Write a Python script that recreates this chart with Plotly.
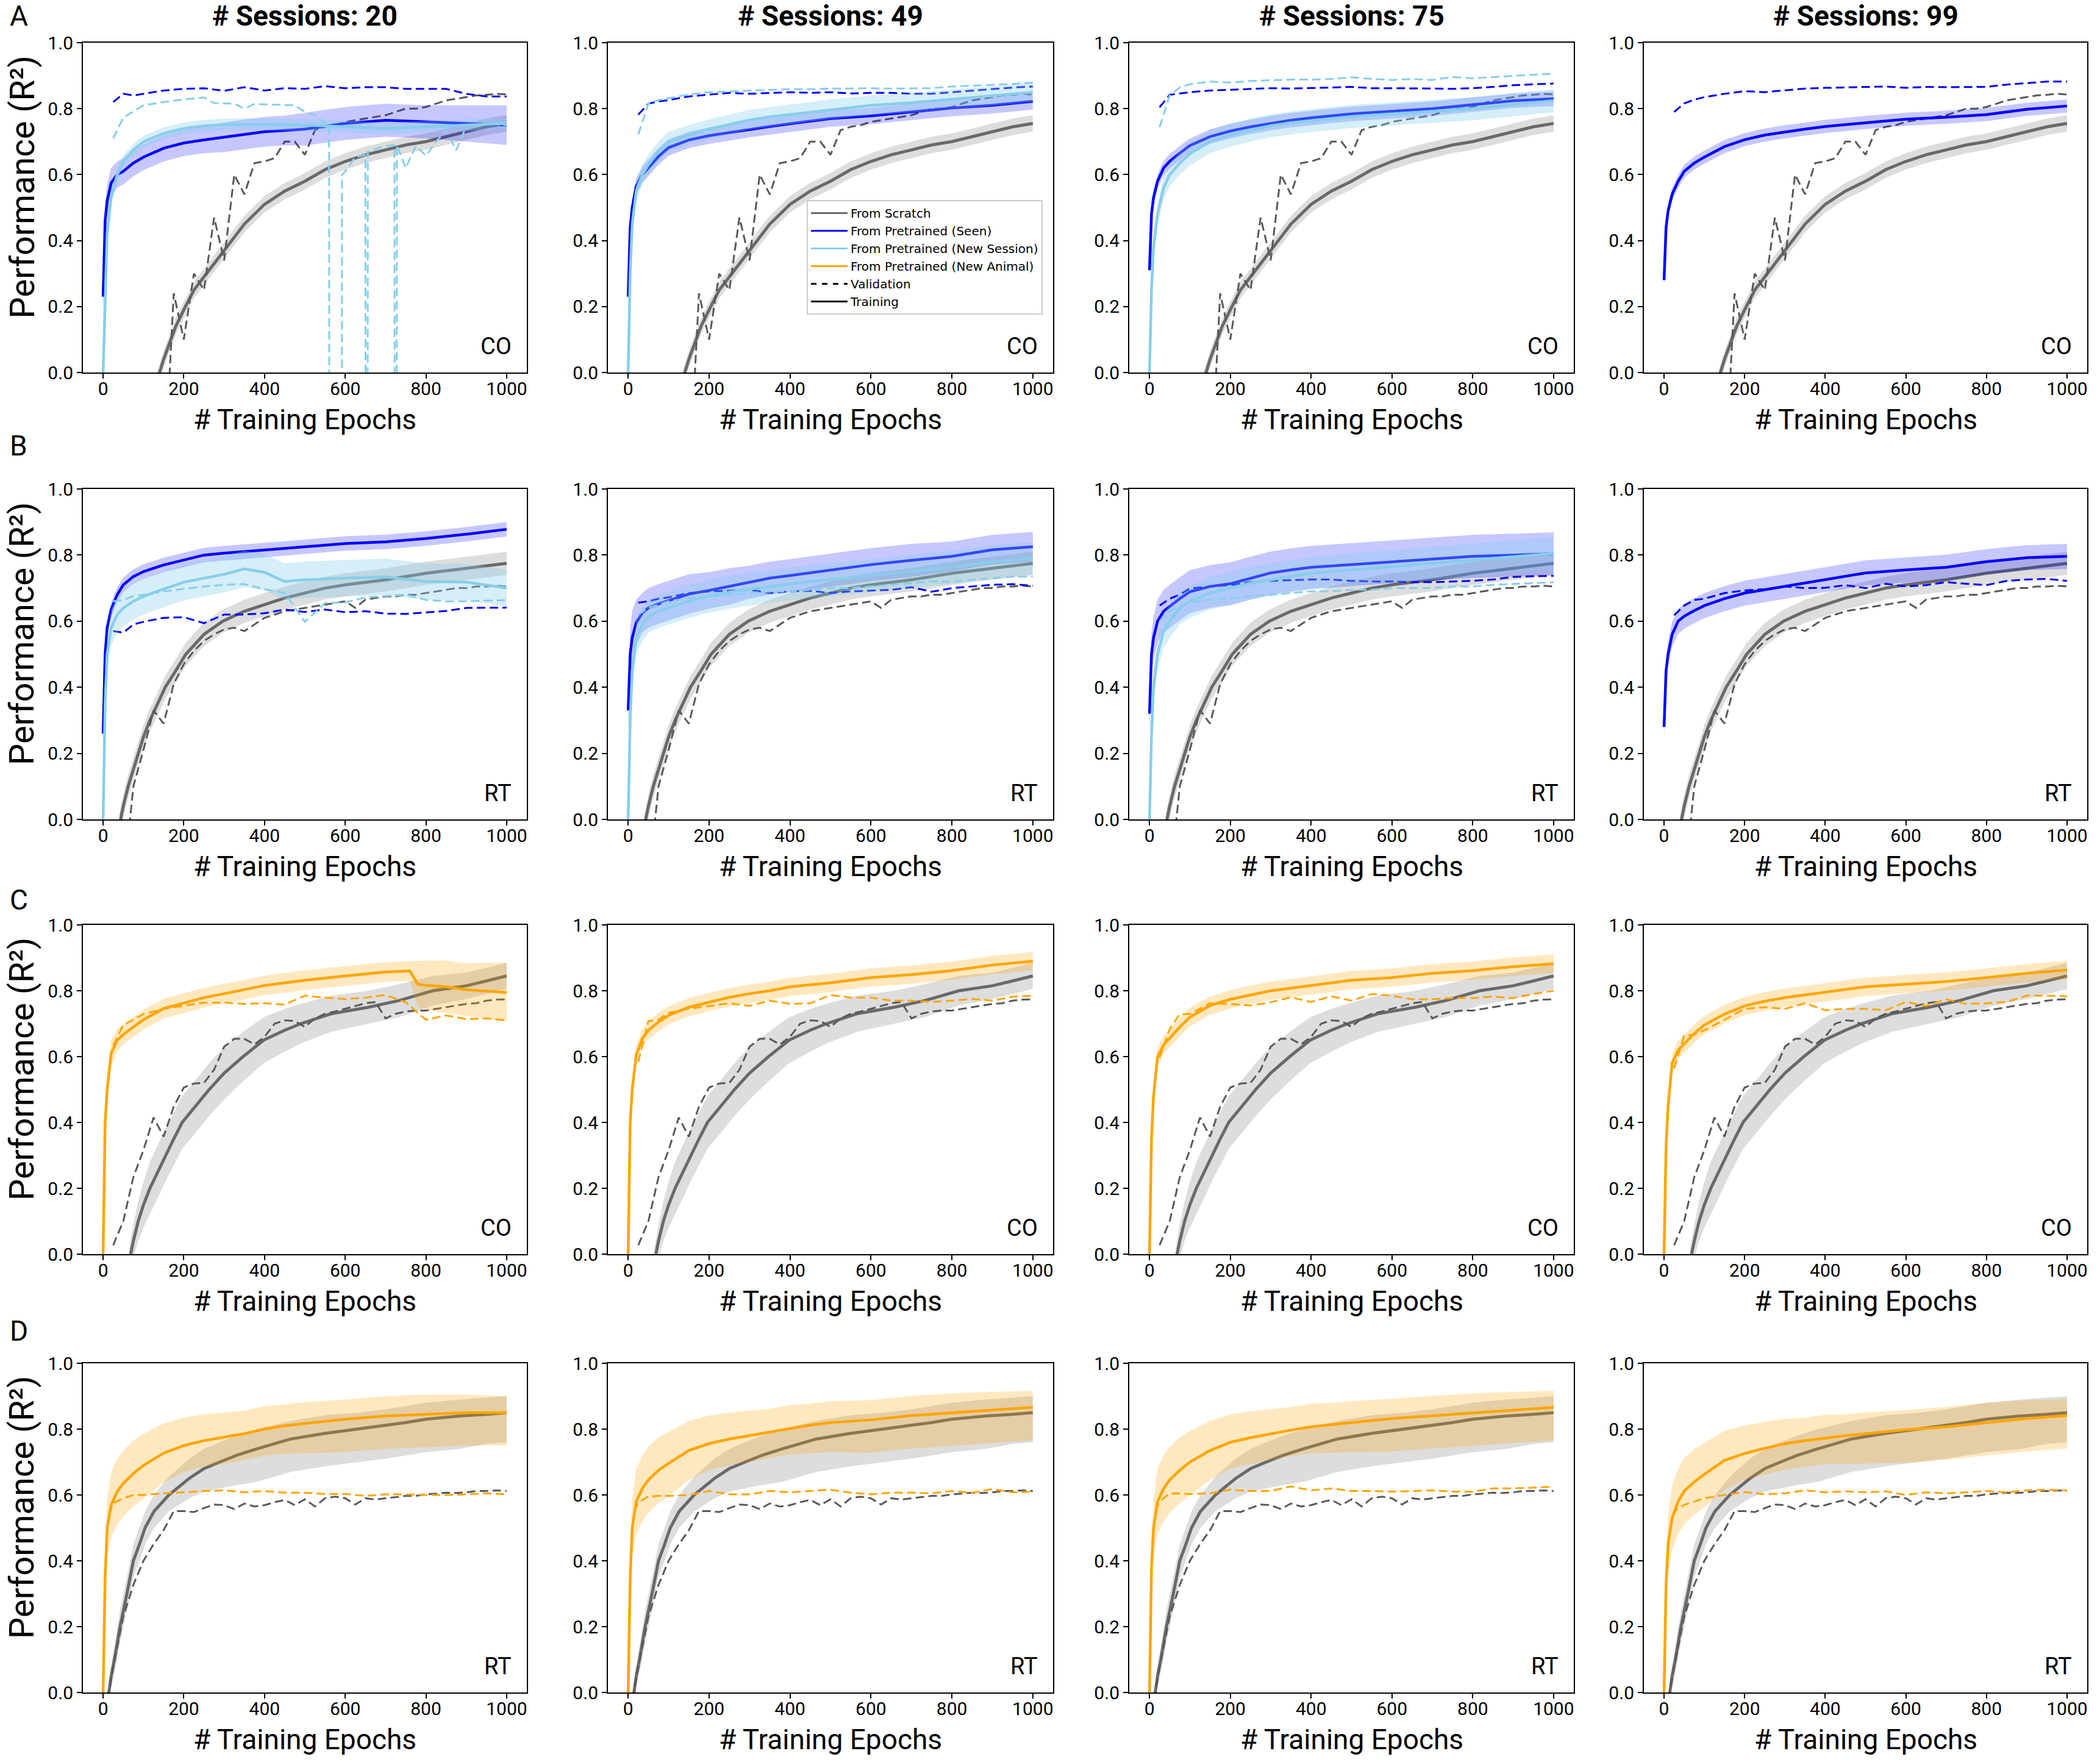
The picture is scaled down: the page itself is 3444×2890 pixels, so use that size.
import plotly.graph_objects as go

# ---------------- data: epoch grids & labels ----------------
TRAIN_EPOCHS = [0, 5, 10, 20, 35, 50, 75, 100, 150, 200, 250, 300, 350, 400, 450, 500, 600, 700, 800, 900, 1000]
VAL_EPOCHS = [25, 50, 75, 100, 150, 200, 250, 300, 350, 400, 450, 500, 550, 600, 650, 700, 750, 800, 850, 900, 950, 1000]
VAL_EPOCHS_D = [15, 25, 50, 75, 100, 150, 200, 250, 300, 350, 400, 450, 500, 550, 600, 650, 700, 750, 800, 850, 900, 950, 1000]
VAL_EPOCHS_25 = [25, 50, 75, 100, 125, 150, 175, 200, 225, 250, 275, 300, 325, 350, 375, 400, 425, 450, 475, 500,
                 525, 550, 575, 600, 625, 650, 675, 700, 725, 750, 775, 800, 825, 850, 875, 900, 925, 950, 975, 1000]
X_TICKS = [0, 200, 400, 600, 800, 1000]
Y_TICKS = [0.0, 0.2, 0.4, 0.6, 0.8, 1.0]
SESSIONS = [20, 49, 75, 99]
ROW_LETTERS = ["A", "B", "C", "D"]
ROW_TASKS = ["CO", "RT", "CO", "RT"]
LEGEND_NAMES = ["From Scratch", "From Pretrained (Seen)", "From Pretrained (New Session)",
                "From Pretrained (New Animal)", "Validation", "Training"]

# ---------------- data: from-scratch curves (shared across a row) ----------------
A_SCR_X = [135, 150, 165, 180, 200, 225, 250, 275, 300, 350, 400, 450, 500, 550, 600, 650, 700, 750, 800, 850, 900, 950, 1000]
A_SCR_Y = [-0.02, 0.04, 0.09, 0.14, 0.19, 0.25, 0.29, 0.33, 0.37, 0.45, 0.51, 0.55, 0.58, 0.615, 0.64, 0.66, 0.675, 0.69, 0.70, 0.715, 0.73, 0.745, 0.755]
A_SCR_SD = 0.025
A_SCR_VAL_X = [150, 175, 200, 225, 250, 275, 300, 325, 350, 375, 400, 425, 450, 475, 500, 525, 550, 575, 600, 625, 650, 675,
               700, 725, 750, 775, 800, 825, 850, 875, 900, 925, 950, 975, 1000]
A_SCR_VAL = [-0.36, 0.24, 0.10, 0.30, 0.25, 0.47, 0.34, 0.60, 0.54, 0.635, 0.64, 0.65, 0.70, 0.70, 0.66, 0.735, 0.745, 0.75,
             0.76, 0.765, 0.77, 0.775, 0.78, 0.79, 0.80, 0.80, 0.805, 0.815, 0.825, 0.83, 0.835, 0.84, 0.842, 0.845, 0.843]

B_SCR_X = [40, 50, 62, 75, 87, 100, 116, 135, 154, 180, 205, 250, 297, 350, 400, 450, 500, 550, 600, 700, 800, 900, 1000]
B_SCR_Y = [-0.02, 0.04, 0.1, 0.15, 0.2, 0.25, 0.3, 0.35, 0.4, 0.45, 0.5, 0.56, 0.6, 0.63, 0.65, 0.67, 0.685, 0.70, 0.71, 0.725, 0.745, 0.76, 0.775]
B_SCR_SD = 0.035
B_SCR_VAL_X = [65, 75, 100, 125, 150, 175, 200, 225, 250, 275, 300, 325, 350, 375, 400, 425, 450, 475, 500, 525, 550, 575,
               600, 625, 650, 675, 700, 725, 750, 775, 800, 825, 850, 875, 900, 925, 950, 975, 1000]
B_SCR_VAL = [-0.02, 0.1, 0.21, 0.33, 0.29, 0.41, 0.47, 0.51, 0.54, 0.56, 0.575, 0.58, 0.57, 0.59, 0.61, 0.62, 0.63, 0.635,
             0.64, 0.645, 0.65, 0.655, 0.66, 0.64, 0.665, 0.67, 0.675, 0.675, 0.68, 0.68, 0.685, 0.69, 0.695, 0.70, 0.70,
             0.705, 0.705, 0.707, 0.705]

C_SCR_X = [65, 75, 87, 100, 116, 135, 154, 175, 196, 230, 263, 300, 347, 398, 450, 490, 565, 658, 733, 817, 900, 951, 1000]
C_SCR_Y = [-0.02, 0.04, 0.1, 0.15, 0.2, 0.25, 0.3, 0.35, 0.4, 0.45, 0.5, 0.55, 0.6, 0.65, 0.68, 0.70, 0.73, 0.75, 0.77, 0.80, 0.815, 0.83, 0.845]
C_SCR_SD = [0.04, 0.05, 0.06, 0.07, 0.08, 0.08, 0.08, 0.08, 0.08, 0.08, 0.08, 0.08, 0.075, 0.07, 0.065, 0.06, 0.055, 0.05, 0.05, 0.045, 0.04, 0.04, 0.04]
C_SCR_VAL = [0.027, 0.10, 0.234, 0.316, 0.415, 0.357, 0.448, 0.506, 0.518, 0.52, 0.56, 0.63, 0.654, 0.654, 0.637, 0.66,
             0.70, 0.71, 0.708, 0.69, 0.716, 0.73, 0.737, 0.745, 0.754, 0.762, 0.766, 0.716, 0.73, 0.737, 0.74, 0.74,
             0.745, 0.75, 0.754, 0.76, 0.762, 0.77, 0.773, 0.774]

D_SCR_X = [12, 20, 28, 42, 59, 75, 90, 104, 126, 163, 213, 250, 289, 330, 381, 465, 550, 633, 700, 750, 800, 884, 950, 1000]
D_SCR_Y = [-0.02, 0.05, 0.1, 0.2, 0.3, 0.4, 0.45, 0.5, 0.55, 0.6, 0.65, 0.68, 0.70, 0.72, 0.74, 0.77, 0.787, 0.80, 0.81, 0.82, 0.83, 0.84, 0.845, 0.85]
D_SCR_UP = [0.02, 0.03, 0.04, 0.05, 0.05, 0.05, 0.05, 0.05, 0.05, 0.055, 0.06, 0.06, 0.06, 0.06, 0.06, 0.055, 0.055, 0.05, 0.05, 0.05, 0.05, 0.05, 0.05, 0.05]
D_SCR_LO = [0.02, 0.03, 0.04, 0.05, 0.05, 0.05, 0.05, 0.05, 0.05, 0.05, 0.06, 0.07, 0.08, 0.09, 0.10, 0.10, 0.10, 0.10, 0.10, 0.10, 0.10, 0.10, 0.09, 0.09]
D_SCR_VAL_X = [12] + VAL_EPOCHS_25
D_SCR_VAL = [-0.02, 0.076, 0.23, 0.327, 0.40, 0.45, 0.493, 0.551, 0.551, 0.548, 0.56, 0.571, 0.569, 0.557, 0.574, 0.565,
             0.569, 0.578, 0.585, 0.569, 0.587, 0.565, 0.59, 0.595, 0.59, 0.571, 0.59, 0.586, 0.59, 0.593, 0.597, 0.597,
             0.602, 0.604, 0.607, 0.606, 0.608, 0.612, 0.612, 0.614, 0.612]

# ---------------- data: row A (CO, pretrained seen / new session) ----------------
A1_SEEN = [0.23, 0.46, 0.52, 0.575, 0.60, 0.61, 0.635, 0.653, 0.68, 0.696, 0.705, 0.713, 0.722, 0.73, 0.734, 0.738, 0.755, 0.765, 0.76, 0.755, 0.75]
A1_SEEN_SD = [0.06, 0.05, 0.05, 0.045, 0.04, 0.04, 0.04, 0.04, 0.04, 0.04, 0.04, 0.045, 0.045, 0.045, 0.045, 0.05, 0.05, 0.05, 0.05, 0.055, 0.06]
A1_SEEN_VAL = [0.82, 0.845, 0.84, 0.845, 0.855, 0.86, 0.862, 0.854, 0.865, 0.855, 0.862, 0.86, 0.868, 0.862, 0.865, 0.865, 0.86, 0.86, 0.86, 0.845, 0.837, 0.837]
A1_NS = [0.0, 0.25, 0.42, 0.53, 0.60, 0.64, 0.675, 0.70, 0.725, 0.74, 0.748, 0.752, 0.753, 0.752, 0.751, 0.75, 0.745, 0.74, 0.745, 0.75, 0.755]
A1_NS_SD = 0.018
A1_NS_VAL_X = [25, 50, 100, 150, 200, 250, 275, 325, 350, 375, 475, 500, 525, 550, 560, 563, 588, 592, 600, 625,
               650, 653, 656, 675, 700, 722, 725, 728, 750, 775, 800, 825, 850, 875, 900, 950, 1000]
A1_NS_VAL = [0.71, 0.773, 0.81, 0.82, 0.828, 0.834, 0.817, 0.815, 0.80, 0.814, 0.81, 0.79, 0.78, 0.755, 0.75, -5, -5, 0.60,
             0.61, 0.653, 0.66, -5, 0.67, 0.678, 0.687, 0.69, -5, 0.69, 0.62, 0.687, 0.657, 0.70, 0.734, 0.674, 0.747, 0.755, 0.75]

A2_SEEN = [0.23, 0.44, 0.50, 0.565, 0.60, 0.62, 0.655, 0.682, 0.705, 0.718, 0.728, 0.738, 0.746, 0.754, 0.762, 0.77, 0.778, 0.79, 0.802, 0.81, 0.822]
A2_SEEN_SD = 0.025
A2_SEEN_VAL = [0.782, 0.815, 0.822, 0.826, 0.837, 0.843, 0.848, 0.845, 0.848, 0.85, 0.848, 0.85, 0.846, 0.848, 0.848, 0.845, 0.845, 0.85, 0.855, 0.86, 0.864, 0.867]
A2_NS = [0.0, 0.30, 0.45, 0.55, 0.60, 0.63, 0.67, 0.70, 0.72, 0.738, 0.752, 0.766, 0.775, 0.782, 0.79, 0.798, 0.81, 0.818, 0.828, 0.838, 0.85]
A2_NS_SD = 0.03
A2_NS_VAL = [0.722, 0.815, 0.826, 0.832, 0.843, 0.85, 0.852, 0.855, 0.856, 0.859, 0.859, 0.861, 0.861, 0.862, 0.861, 0.862, 0.862, 0.867, 0.869, 0.872, 0.875, 0.879]

A3_SEEN = [0.31, 0.48, 0.53, 0.58, 0.62, 0.64, 0.665, 0.688, 0.715, 0.732, 0.745, 0.756, 0.765, 0.772, 0.778, 0.784, 0.792, 0.80, 0.812, 0.824, 0.83]
A3_SEEN_SD = 0.022
A3_SEEN_VAL = [0.804, 0.842, 0.846, 0.85, 0.855, 0.857, 0.86, 0.862, 0.861, 0.862, 0.864, 0.866, 0.862, 0.862, 0.862, 0.861, 0.86, 0.862, 0.866, 0.871, 0.874, 0.876]
A3_NS = [0.0, 0.25, 0.38, 0.48, 0.56, 0.60, 0.635, 0.663, 0.70, 0.72, 0.735, 0.748, 0.757, 0.764, 0.77, 0.776, 0.784, 0.792, 0.80, 0.812, 0.824]
A3_NS_SD = 0.035
A3_NS_VAL = [0.744, 0.84, 0.864, 0.874, 0.882, 0.879, 0.884, 0.886, 0.888, 0.888, 0.89, 0.895, 0.89, 0.887, 0.89, 0.887, 0.896, 0.892, 0.896, 0.90, 0.903, 0.906]

A4_SEEN = [0.28, 0.44, 0.49, 0.54, 0.58, 0.61, 0.635, 0.653, 0.685, 0.706, 0.72, 0.73, 0.738, 0.746, 0.752, 0.758, 0.768, 0.774, 0.782, 0.798, 0.808]
A4_SEEN_SD = 0.02
A4_SEEN_VAL = [0.79, 0.816, 0.827, 0.835, 0.845, 0.853, 0.85, 0.856, 0.861, 0.863, 0.864, 0.865, 0.867, 0.863, 0.866, 0.865, 0.865, 0.866, 0.873, 0.877, 0.882, 0.882]

# ---------------- data: row B (RT, pretrained seen / new session) ----------------
B1_SEEN = [0.26, 0.50, 0.58, 0.635, 0.68, 0.71, 0.735, 0.75, 0.77, 0.785, 0.80, 0.806, 0.81, 0.815, 0.82, 0.825, 0.835, 0.84, 0.85, 0.863, 0.878]
B1_SEEN_SD = 0.022
B1_SEEN_VAL = [0.57, 0.565, 0.59, 0.598, 0.61, 0.612, 0.594, 0.62, 0.62, 0.624, 0.635, 0.628, 0.635, 0.627, 0.63, 0.623, 0.622, 0.627, 0.631, 0.64, 0.641, 0.641]
B1_NS = [0.0, 0.35, 0.50, 0.58, 0.62, 0.64, 0.66, 0.675, 0.697, 0.718, 0.73, 0.742, 0.758, 0.748, 0.72, 0.725, 0.73, 0.734, 0.72, 0.718, 0.70]
B1_NS_SD = 0.055
B1_NS_VAL = [0.66, 0.664, 0.676, 0.68, 0.69, 0.697, 0.705, 0.71, 0.712, 0.697, 0.685, 0.598, 0.655, 0.657, 0.672, 0.676, 0.68, 0.664, 0.66, 0.66, 0.662, 0.664]

B2_SEEN = [0.33, 0.50, 0.55, 0.595, 0.625, 0.64, 0.652, 0.662, 0.682, 0.693, 0.705, 0.718, 0.73, 0.738, 0.746, 0.755, 0.771, 0.784, 0.796, 0.816, 0.825]
B2_SEEN_SD = [0.06, 0.08, 0.08, 0.07, 0.06, 0.06, 0.06, 0.06, 0.06, 0.055, 0.055, 0.05, 0.05, 0.05, 0.05, 0.05, 0.05, 0.05, 0.045, 0.045, 0.045]
B2_SEEN_VAL = [0.656, 0.66, 0.668, 0.672, 0.685, 0.69, 0.692, 0.695, 0.685, 0.69, 0.692, 0.685, 0.69, 0.693, 0.695, 0.703, 0.689, 0.70, 0.705, 0.71, 0.712, 0.707]
B2_NS = [0.0, 0.30, 0.45, 0.55, 0.59, 0.615, 0.63, 0.64, 0.66, 0.676, 0.688, 0.697, 0.705, 0.713, 0.72, 0.726, 0.738, 0.75, 0.763, 0.78, 0.79]
B2_NS_SD = 0.05
B2_NS_VAL = [0.62, 0.64, 0.65, 0.66, 0.67, 0.675, 0.68, 0.685, 0.69, 0.69, 0.695, 0.70, 0.70, 0.705, 0.71, 0.715, 0.72, 0.72, 0.725, 0.73, 0.735, 0.735]

B3_SEEN = [0.32, 0.50, 0.55, 0.60, 0.63, 0.645, 0.668, 0.689, 0.705, 0.713, 0.73, 0.746, 0.755, 0.763, 0.767, 0.771, 0.78, 0.788, 0.796, 0.80, 0.804]
B3_SEEN_SD = 0.065
B3_SEEN_VAL = [0.647, 0.668, 0.68, 0.699, 0.705, 0.709, 0.718, 0.722, 0.724, 0.726, 0.726, 0.722, 0.72, 0.72, 0.718, 0.718, 0.72, 0.722, 0.726, 0.734, 0.736, 0.737]
B3_NS = [0.0, 0.25, 0.40, 0.50, 0.57, 0.60, 0.64, 0.66, 0.685, 0.70, 0.715, 0.725, 0.735, 0.745, 0.75, 0.755, 0.765, 0.775, 0.785, 0.795, 0.805]
B3_NS_SD = 0.05
B3_NS_VAL = [0.60, 0.63, 0.645, 0.655, 0.665, 0.67, 0.675, 0.68, 0.685, 0.69, 0.69, 0.695, 0.695, 0.70, 0.70, 0.70, 0.705, 0.705, 0.71, 0.712, 0.715, 0.718]

B4_SEEN = [0.28, 0.45, 0.50, 0.56, 0.60, 0.615, 0.632, 0.647, 0.668, 0.685, 0.695, 0.705, 0.715, 0.726, 0.736, 0.746, 0.755, 0.763, 0.78, 0.792, 0.796]
B4_SEEN_SD = 0.038
B4_SEEN_VAL = [0.618, 0.647, 0.664, 0.668, 0.685, 0.693, 0.697, 0.705, 0.70, 0.701, 0.709, 0.70, 0.713, 0.705, 0.709, 0.718, 0.713, 0.709, 0.722, 0.726, 0.728, 0.722]

# ---------------- data: row C (CO, pretrained new animal) ----------------
C1_NA_X = [0, 5, 10, 20, 35, 50, 75, 100, 150, 200, 250, 300, 350, 400, 450, 500, 600, 700, 760, 780, 800, 850, 900, 950, 1000]
C1_NA = [0.0, 0.40, 0.50, 0.61, 0.65, 0.667, 0.69, 0.712, 0.746, 0.762, 0.779, 0.791, 0.803, 0.816, 0.824, 0.832, 0.845, 0.857, 0.86, 0.82, 0.816, 0.812, 0.803, 0.80, 0.795]
C1_NA_SD = [0.02, 0.04, 0.04, 0.04, 0.035, 0.03, 0.03, 0.03, 0.03, 0.03, 0.03, 0.03, 0.03, 0.03, 0.03, 0.03, 0.03, 0.03, 0.03, 0.07, 0.075, 0.08, 0.08, 0.085, 0.09]
C1_NA_VAL = [0.634, 0.696, 0.712, 0.729, 0.745, 0.754, 0.764, 0.764, 0.76, 0.762, 0.758, 0.785, 0.779, 0.775, 0.779, 0.787, 0.765, 0.712, 0.725, 0.714, 0.716, 0.71]
C2_NA = [0.0, 0.40, 0.50, 0.605, 0.655, 0.68, 0.705, 0.725, 0.75, 0.766, 0.78, 0.791, 0.80, 0.812, 0.818, 0.824, 0.84, 0.849, 0.861, 0.878, 0.89]
C2_NA_VAL = [0.584, 0.708, 0.712, 0.733, 0.745, 0.754, 0.762, 0.754, 0.77, 0.76, 0.762, 0.787, 0.779, 0.779, 0.77, 0.77, 0.766, 0.77, 0.775, 0.77, 0.782, 0.785]
C3_NA = [0.0, 0.35, 0.48, 0.60, 0.635, 0.655, 0.69, 0.72, 0.755, 0.774, 0.788, 0.80, 0.808, 0.816, 0.824, 0.832, 0.84, 0.853, 0.861, 0.873, 0.882]
C3_NA_VAL = [0.597, 0.684, 0.729, 0.729, 0.762, 0.76, 0.755, 0.765, 0.78, 0.766, 0.783, 0.77, 0.79, 0.785, 0.774, 0.774, 0.778, 0.778, 0.782, 0.778, 0.79, 0.80]
C4_NA = [0.0, 0.33, 0.45, 0.58, 0.62, 0.638, 0.67, 0.696, 0.729, 0.754, 0.768, 0.779, 0.787, 0.795, 0.803, 0.812, 0.82, 0.828, 0.84, 0.853, 0.863]
C4_NA_VAL = [0.564, 0.663, 0.667, 0.68, 0.712, 0.745, 0.75, 0.745, 0.762, 0.741, 0.745, 0.745, 0.741, 0.766, 0.754, 0.774, 0.76, 0.762, 0.766, 0.785, 0.785, 0.783]
C_NA_SD = 0.028

# ---------------- data: row D (RT, pretrained new animal) ----------------
D1_NA = [0.0, 0.35, 0.50, 0.57, 0.61, 0.635, 0.665, 0.69, 0.727, 0.75, 0.765, 0.775, 0.786, 0.80, 0.81, 0.817, 0.83, 0.84, 0.845, 0.85, 0.85]
D1_NA_VAL = [0.54, 0.575, 0.59, 0.60, 0.60, 0.605, 0.608, 0.612, 0.614, 0.608, 0.612, 0.607, 0.607, 0.603, 0.603, 0.597, 0.602, 0.602, 0.60, 0.60, 0.602, 0.605, 0.602]
D2_NA = [0.0, 0.35, 0.50, 0.58, 0.62, 0.646, 0.675, 0.696, 0.735, 0.756, 0.77, 0.781, 0.792, 0.803, 0.812, 0.82, 0.828, 0.841, 0.849, 0.858, 0.866]
D2_NA_VAL = [0.55, 0.578, 0.595, 0.597, 0.597, 0.60, 0.612, 0.602, 0.602, 0.612, 0.608, 0.612, 0.616, 0.607, 0.602, 0.607, 0.607, 0.605, 0.612, 0.607, 0.618, 0.608, 0.61]
D3_NA = [0.0, 0.38, 0.50, 0.58, 0.62, 0.646, 0.675, 0.70, 0.735, 0.76, 0.774, 0.786, 0.797, 0.807, 0.814, 0.82, 0.832, 0.841, 0.849, 0.858, 0.866]
D3_NA_VAL = [0.55, 0.58, 0.605, 0.604, 0.603, 0.605, 0.616, 0.612, 0.612, 0.626, 0.614, 0.62, 0.612, 0.612, 0.61, 0.612, 0.614, 0.61, 0.61, 0.62, 0.62, 0.622, 0.625]
D4_NA = [0.0, 0.33, 0.45, 0.53, 0.58, 0.612, 0.64, 0.663, 0.705, 0.726, 0.742, 0.756, 0.765, 0.773, 0.78, 0.786, 0.798, 0.807, 0.82, 0.832, 0.841]
D4_NA_VAL = [0.50, 0.55, 0.57, 0.58, 0.59, 0.60, 0.609, 0.602, 0.605, 0.614, 0.608, 0.611, 0.608, 0.611, 0.60, 0.608, 0.605, 0.608, 0.612, 0.608, 0.614, 0.616, 0.614]
D_NA_UP = [0.02, 0.08, 0.09, 0.10, 0.10, 0.10, 0.10, 0.095, 0.09, 0.085, 0.08, 0.075, 0.07, 0.07, 0.065, 0.065, 0.06, 0.06, 0.06, 0.055, 0.05]
D_NA_LO = [0.0, 0.08, 0.09, 0.10, 0.10, 0.10, 0.10, 0.10, 0.09, 0.08, 0.08, 0.08, 0.08, 0.08, 0.085, 0.09, 0.10, 0.10, 0.10, 0.10, 0.10]

# ---------------- styling ----------------
W, H = 3444, 2890
COL_PX = [(136, 864), (997, 1727), (1852, 2581), (2696, 3423)]
ROW_PX = [(70, 611), (802, 1344), (1517, 2057), (2236, 2776)]
LETTER_Y = [26, 731, 1476, 2183]
FONT = "Roboto"

GRAY, GRAY_VAL, GRAY_BAND = "#696969", "#595959", "rgba(150,150,150,0.32)"
BLUE, BLUE_BAND = "#0000ff", "rgba(0,0,255,0.22)"
SKY, SKY_BAND = "#87ceeb", "rgba(135,206,235,0.35)"
ORANGE, ORANGE_BAND = "#ffa500", "rgba(255,165,0,0.25)"
DASH = "14px,7px"

scr_rows = [
    (A_SCR_X, A_SCR_Y, A_SCR_SD, A_SCR_SD, A_SCR_VAL_X, A_SCR_VAL),
    (B_SCR_X, B_SCR_Y, B_SCR_SD, B_SCR_SD, B_SCR_VAL_X, B_SCR_VAL),
    (C_SCR_X, C_SCR_Y, C_SCR_SD, C_SCR_SD, VAL_EPOCHS_25, C_SCR_VAL),
    (D_SCR_X, D_SCR_Y, D_SCR_LO, D_SCR_UP, D_SCR_VAL_X, D_SCR_VAL),
]

# per panel: list of (train_x, train_y, lo, hi, val_x, val_y, color, band)
panels = {
    (0, 0): [(TRAIN_EPOCHS, A1_SEEN, A1_SEEN_SD, A1_SEEN_SD, VAL_EPOCHS, A1_SEEN_VAL, BLUE, BLUE_BAND),
             (TRAIN_EPOCHS, A1_NS, A1_NS_SD, A1_NS_SD, A1_NS_VAL_X, A1_NS_VAL, SKY, SKY_BAND)],
    (0, 1): [(TRAIN_EPOCHS, A2_SEEN, A2_SEEN_SD, A2_SEEN_SD, VAL_EPOCHS, A2_SEEN_VAL, BLUE, BLUE_BAND),
             (TRAIN_EPOCHS, A2_NS, A2_NS_SD, A2_NS_SD, VAL_EPOCHS, A2_NS_VAL, SKY, SKY_BAND)],
    (0, 2): [(TRAIN_EPOCHS, A3_SEEN, A3_SEEN_SD, A3_SEEN_SD, VAL_EPOCHS, A3_SEEN_VAL, BLUE, BLUE_BAND),
             (TRAIN_EPOCHS, A3_NS, A3_NS_SD, A3_NS_SD, VAL_EPOCHS, A3_NS_VAL, SKY, SKY_BAND)],
    (0, 3): [(TRAIN_EPOCHS, A4_SEEN, A4_SEEN_SD, A4_SEEN_SD, VAL_EPOCHS, A4_SEEN_VAL, BLUE, BLUE_BAND)],
    (1, 0): [(TRAIN_EPOCHS, B1_SEEN, B1_SEEN_SD, B1_SEEN_SD, VAL_EPOCHS, B1_SEEN_VAL, BLUE, BLUE_BAND),
             (TRAIN_EPOCHS, B1_NS, B1_NS_SD, B1_NS_SD, VAL_EPOCHS, B1_NS_VAL, SKY, SKY_BAND)],
    (1, 1): [(TRAIN_EPOCHS, B2_SEEN, B2_SEEN_SD, B2_SEEN_SD, VAL_EPOCHS, B2_SEEN_VAL, BLUE, BLUE_BAND),
             (TRAIN_EPOCHS, B2_NS, B2_NS_SD, B2_NS_SD, VAL_EPOCHS, B2_NS_VAL, SKY, SKY_BAND)],
    (1, 2): [(TRAIN_EPOCHS, B3_SEEN, B3_SEEN_SD, B3_SEEN_SD, VAL_EPOCHS, B3_SEEN_VAL, BLUE, BLUE_BAND),
             (TRAIN_EPOCHS, B3_NS, B3_NS_SD, B3_NS_SD, VAL_EPOCHS, B3_NS_VAL, SKY, SKY_BAND)],
    (1, 3): [(TRAIN_EPOCHS, B4_SEEN, B4_SEEN_SD, B4_SEEN_SD, VAL_EPOCHS, B4_SEEN_VAL, BLUE, BLUE_BAND)],
    (2, 0): [(C1_NA_X, C1_NA, C1_NA_SD, C1_NA_SD, VAL_EPOCHS, C1_NA_VAL, ORANGE, ORANGE_BAND)],
    (2, 1): [(TRAIN_EPOCHS, C2_NA, C_NA_SD, C_NA_SD, VAL_EPOCHS, C2_NA_VAL, ORANGE, ORANGE_BAND)],
    (2, 2): [(TRAIN_EPOCHS, C3_NA, C_NA_SD, C_NA_SD, VAL_EPOCHS, C3_NA_VAL, ORANGE, ORANGE_BAND)],
    (2, 3): [(TRAIN_EPOCHS, C4_NA, C_NA_SD, C_NA_SD, VAL_EPOCHS, C4_NA_VAL, ORANGE, ORANGE_BAND)],
    (3, 0): [(TRAIN_EPOCHS, D1_NA, D_NA_LO, D_NA_UP, VAL_EPOCHS_D, D1_NA_VAL, ORANGE, ORANGE_BAND)],
    (3, 1): [(TRAIN_EPOCHS, D2_NA, D_NA_LO, D_NA_UP, VAL_EPOCHS_D, D2_NA_VAL, ORANGE, ORANGE_BAND)],
    (3, 2): [(TRAIN_EPOCHS, D3_NA, D_NA_LO, D_NA_UP, VAL_EPOCHS_D, D3_NA_VAL, ORANGE, ORANGE_BAND)],
    (3, 3): [(TRAIN_EPOCHS, D4_NA, D_NA_LO, D_NA_UP, VAL_EPOCHS_D, D4_NA_VAL, ORANGE, ORANGE_BAND)],
}


def ax_names(k):
    return ("x" if k == 0 else f"x{k + 1}"), ("y" if k == 0 else f"y{k + 1}")


def as_list(v, n):
    return v if isinstance(v, list) else [v] * n


def add_band_line(fig, k, x, y, lo, hi, color, band, width):
    xa, ya = ax_names(k)
    los, his = as_list(lo, len(y)), as_list(hi, len(y))
    upper = [v + h for v, h in zip(y, his)]
    lower = [v - l for v, l in zip(y, los)]
    fig.add_trace(go.Scatter(x=list(x) + list(x)[::-1], y=upper + lower[::-1], fill="toself",
                             fillcolor=band, line=dict(width=0), mode="lines", hoverinfo="skip",
                             showlegend=False, xaxis=xa, yaxis=ya))
    fig.add_trace(go.Scatter(x=x, y=y, mode="lines", line=dict(color=color, width=width),
                             showlegend=False, xaxis=xa, yaxis=ya))


def add_val(fig, k, x, y, color, width=3):
    xa, ya = ax_names(k)
    fig.add_trace(go.Scatter(x=x, y=y, mode="lines", line=dict(color=color, width=width, dash=DASH),
                             showlegend=False, xaxis=xa, yaxis=ya))


fig = go.Figure()
layout = {}
annotations = []

for r in range(4):
    for c in range(4):
        k = r * 4 + c
        x0, x1 = COL_PX[c]
        y0, y1 = ROW_PX[r]
        xa_key = "xaxis" if k == 0 else f"xaxis{k + 1}"
        ya_key = "yaxis" if k == 0 else f"yaxis{k + 1}"
        xa, ya = ax_names(k)
        common = dict(showline=True, mirror=True, linecolor="black", linewidth=2, ticks="outside",
                      ticklen=8, tickwidth=2, tickcolor="black", showgrid=False, zeroline=False,
                      automargin=False, tickfont=dict(family=FONT, size=30, color="black"))
        layout[xa_key] = dict(domain=[x0 / W, x1 / W], anchor=ya, range=[-50, 1050],
                              tickvals=X_TICKS, **common)
        layout[ya_key] = dict(domain=[1 - y1 / H, 1 - y0 / H], anchor=xa, range=[0, 1],
                              tickvals=Y_TICKS, tickformat=".1f", **common)

        sx, sy, slo, shi, svx, svy = scr_rows[r]
        add_band_line(fig, k, sx, sy, slo, shi, GRAY, GRAY_BAND, 5)
        add_val(fig, k, svx, svy, GRAY_VAL, 3)
        for (tx, ty, lo, hi, vx, vy, colr, band) in panels[(r, c)]:
            add_band_line(fig, k, tx, ty, lo, hi, colr, band, 4.5)
            add_val(fig, k, vx, vy, colr, 3)

        annotations.append(dict(text=ROW_TASKS[r], xref=f"{xa} domain", yref=f"{ya} domain",
                                x=0.968, y=0.035, xanchor="right", yanchor="bottom", showarrow=False,
                                font=dict(family=FONT, size=38, color="black")))
        annotations.append(dict(text="# Training Epochs", xref="paper", yref="paper",
                                x=(x0 + x1) / 2 / W, y=1 - (y1 + 77) / H, xanchor="center", yanchor="middle",
                                showarrow=False, font=dict(family=FONT, size=46, color="black")))
        if r == 0:
            annotations.append(dict(text=f"# Sessions: {SESSIONS[c]}", xref="paper", yref="paper",
                                    x=(x0 + x1) / 2 / W, y=1 - 26 / H, xanchor="center", yanchor="middle",
                                    showarrow=False,
                                    font=dict(family=FONT, size=46, color="black", weight="bold")))
    annotations.append(dict(text="Performance (R²)", xref="paper", yref="paper", textangle=-90,
                            x=36 / W, y=1 - ((ROW_PX[r][0] + ROW_PX[r][1]) / 2 - 34) / H, xanchor="center",
                            yanchor="middle", showarrow=False, font=dict(family=FONT, size=56, color="black")))
    annotations.append(dict(text=ROW_LETTERS[r], xref="paper", yref="paper", x=14 / W, y=1 - LETTER_Y[r] / H,
                            xanchor="left", yanchor="middle", showarrow=False,
                            font=dict(family=FONT, size=46, color="black")))

# legend entries (drawn in panel A, 49 sessions)
leg_styles = [(GRAY, "solid"), (BLUE, "solid"), (SKY, "solid"), (ORANGE, "solid"), ("black", "dash"), ("black", "solid")]
for name, (colr, dash) in zip(LEGEND_NAMES, leg_styles):
    fig.add_trace(go.Scatter(x=[None], y=[None], mode="lines", name=name,
                             line=dict(color=colr, width=3, dash=dash), xaxis="x2", yaxis="y2"))

fig.update_layout(
    width=W, height=H, margin=dict(l=0, r=0, t=0, b=0, pad=0, autoexpand=False),
    paper_bgcolor="white", plot_bgcolor="white",
    annotations=annotations,
    legend=dict(x=1323 / W, y=1 - 328 / H, xanchor="left", yanchor="top", bgcolor="rgba(255,255,255,0.85)",
                bordercolor="#cccccc", borderwidth=2, font=dict(family="DejaVu Sans", size=20, color="black"),
                tracegroupgap=0, itemwidth=60),
    **layout,
)
try:
    fig.update_xaxes(ticklabelstandoff=-9)
except Exception:
    pass

fig.write_html("out.html", config={"displayModeBar": False},
               post_script="document.body.style.margin='0';")
